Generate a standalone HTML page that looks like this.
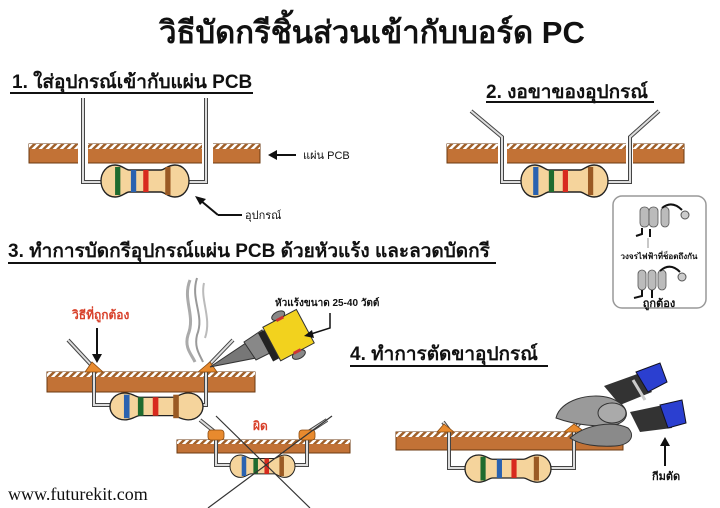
<!DOCTYPE html>
<html><head><meta charset="utf-8"><style>
html,body{margin:0;padding:0;background:#fff;}
svg{display:block;}
text{font-family:"Liberation Sans","DejaVu Sans",sans-serif;}
</style></head><body>
<svg width="720" height="508" viewBox="0 0 720 508" xmlns="http://www.w3.org/2000/svg">
<defs>
<pattern id="hatch" width="5" height="5" patternUnits="userSpaceOnUse" patternTransform="rotate(45)">
<rect width="5" height="5" fill="#fff"/><rect width="2.5" height="5" fill="#a0602a"/>
</pattern>
<path id="rb" d="M16,0 C6,0 0,8 0,16 C0,24 6,32 16,32 C24,32 28,27 32,27 L68,27 C72,27 76,32 84,32 C94,32 100,24 100,16 C100,8 94,0 84,0 C76,0 72,5 68,5 L32,5 C28,5 24,0 16,0Z"/>
</defs>

<text x="372" y="43" text-anchor="middle" font-size="31" font-weight="bold" fill="#111">วิธีบัดกรีชิ้นส่วนเข้ากับบอร์ด PC</text>

<!-- Section 1 -->
<text x="12" y="88" font-size="19" font-weight="bold" fill="#111">1. ใส่อุปกรณ์เข้ากับแผ่น PCB</text>
<line x1="10" y1="93" x2="253" y2="93" stroke="#111" stroke-width="2"/>
<g>
<rect x="29" y="144" width="231" height="19" fill="#c27236" stroke="#6b3a12"/>
<rect x="29" y="144" width="231" height="5" fill="url(#hatch)"/>
<rect x="78" y="143" width="10" height="21" fill="#fff"/>
<rect x="202" y="143" width="11" height="21" fill="#fff"/>
</g>
<polyline points="83,98 83,182 103,182" fill="none" stroke="#444" stroke-width="4"/>
<polyline points="83,98 83,182 103,182" fill="none" stroke="#ddd" stroke-width="2"/>
<polyline points="206,98 206,182 187,182" fill="none" stroke="#444" stroke-width="4"/>
<polyline points="206,98 206,182 187,182" fill="none" stroke="#ddd" stroke-width="2"/>
<g transform="translate(101,165) scale(0.88,1)">
<use href="#rb" fill="#f5d49c" stroke="#222" stroke-width="1.5"/>
<rect x="16" y="2" width="6" height="28" fill="#1f6b2e"/>
<rect x="34" y="5" width="6" height="22" fill="#2a62b0"/>
<rect x="48" y="5" width="6" height="22" fill="#d82a1e"/>
<rect x="73" y="2" width="6" height="28" fill="#9a5a24"/>
</g>
<line x1="274" y1="155" x2="296" y2="155" stroke="#111" stroke-width="2"/>
<polygon points="268,155 277,150 277,160" fill="#111"/>
<text x="303" y="159" font-size="11" fill="#111">แผ่น PCB</text>
<line x1="200" y1="200" x2="218" y2="215" stroke="#111" stroke-width="2"/>
<line x1="218" y1="215" x2="242" y2="215" stroke="#111" stroke-width="2"/>
<polygon points="195,196 206,199 200,205" fill="#111"/>
<text x="245" y="219" font-size="11" fill="#111">อุปกรณ์</text>

<!-- Section 2 -->
<text x="486" y="98" font-size="19" font-weight="bold" fill="#111">2. งอขาของอุปกรณ์</text>
<line x1="486" y1="102" x2="654" y2="102" stroke="#111" stroke-width="2"/>
<rect x="447" y="144" width="237" height="19" fill="#c27236" stroke="#6b3a12"/>
<rect x="447" y="144" width="237" height="5" fill="url(#hatch)"/>
<rect x="498" y="143" width="9" height="21" fill="#fff"/>
<rect x="626" y="143" width="7" height="21" fill="#fff"/>
<polyline points="471,111 502,137 502,182 523,182" fill="none" stroke="#444" stroke-width="4"/>
<polyline points="471,111 502,137 502,182 523,182" fill="none" stroke="#ddd" stroke-width="2"/>
<polyline points="659,111 630,137 630,182 606,182" fill="none" stroke="#444" stroke-width="4"/>
<polyline points="659,111 630,137 630,182 606,182" fill="none" stroke="#ddd" stroke-width="2"/>
<g transform="translate(521,165) scale(0.87,1)">
<use href="#rb" fill="#f5d49c" stroke="#222" stroke-width="1.5"/>
<rect x="14" y="2" width="6" height="28" fill="#2a62b0"/>
<rect x="32" y="5" width="6" height="22" fill="#1f6b2e"/>
<rect x="48" y="5" width="6" height="22" fill="#d82a1e"/>
<rect x="77" y="2" width="6" height="28" fill="#9a5a24"/>
</g>

<!-- Inset box -->
<rect x="613" y="196" width="93" height="112" rx="9" fill="#fff" stroke="#999" stroke-width="1.5"/>
<g fill="#bbb" stroke="#555" stroke-width="0.8">
<rect x="640" y="207" width="9" height="20" rx="4"/><rect x="649" y="207" width="9" height="20" rx="4"/><rect x="661" y="207" width="8" height="20" rx="4"/>
<rect x="638" y="270" width="8" height="20" rx="4"/><rect x="648" y="270" width="8" height="20" rx="4"/><rect x="658" y="270" width="8" height="20" rx="4"/>
</g>
<circle cx="685" cy="215" r="4" fill="#ccc" stroke="#555"/>
<circle cx="682" cy="277" r="4" fill="#ccc" stroke="#555"/>
<path d="M662,208 Q672,200 682,210" fill="none" stroke="#111" stroke-width="2"/>
<path d="M660,271 Q670,262 680,272" fill="none" stroke="#111" stroke-width="2"/>
<path d="M642,228 L642,234 L636,236" fill="none" stroke="#111" stroke-width="2"/>
<path d="M642,290 L642,296 L634,298" fill="none" stroke="#111" stroke-width="2"/>
<line x1="650" y1="229" x2="650" y2="237" stroke="#111" stroke-width="2"/>
<line x1="652" y1="290" x2="652" y2="298" stroke="#111" stroke-width="2"/>
<line x1="648" y1="238" x2="648" y2="248" stroke="#777" stroke-width="0.8"/>
<text x="659" y="259" text-anchor="middle" font-size="8" font-weight="bold" fill="#111">วงจรไฟฟ้าที่ช็อตถึงกัน</text>
<text x="659" y="307" text-anchor="middle" font-size="11" font-weight="bold" fill="#111">ถูกต้อง</text>

<!-- Section 3 -->
<text x="8" y="257" font-size="19" font-weight="bold" fill="#111">3. ทำการบัดกรีอุปกรณ์แผ่น PCB ด้วยหัวแร้ง และลวดบัดกรี</text>
<line x1="8" y1="263" x2="496" y2="263" stroke="#111" stroke-width="2"/>

<text x="72" y="319" font-size="12" font-weight="bold" fill="#d8402a">วิธีที่ถูกต้อง</text>
<line x1="97" y1="328" x2="97" y2="356" stroke="#111" stroke-width="2"/>
<polygon points="92,354 102,354 97,363" fill="#111"/>

<rect x="47" y="372" width="208" height="20" fill="#c27236" stroke="#6b3a12"/>
<rect x="47" y="372" width="208" height="5" fill="url(#hatch)"/>
<polyline points="68,340 94,368 94,405 112,405" fill="none" stroke="#444" stroke-width="4"/>
<polyline points="68,340 94,368 94,405 112,405" fill="none" stroke="#ddd" stroke-width="2"/>
<polyline points="233,340 206,368 206,405 200,405" fill="none" stroke="#444" stroke-width="4"/>
<polyline points="233,340 206,368 206,405 200,405" fill="none" stroke="#ddd" stroke-width="2"/>
<polygon points="85,372 92,362 103,372" fill="#e88a2e" stroke="#8a4a10" stroke-width="0.8"/>
<polygon points="198,372 210,362 217,372" fill="#e88a2e" stroke="#8a4a10" stroke-width="0.8"/>
<g transform="translate(110,393) scale(0.93,0.84)">
<use href="#rb" fill="#f5d49c" stroke="#222" stroke-width="1.5"/>
<rect x="15" y="2" width="6" height="28" fill="#2a62b0"/>
<rect x="30" y="5" width="6" height="22" fill="#1f6b2e"/>
<rect x="46" y="5" width="6" height="22" fill="#d82a1e"/>
<rect x="68" y="2" width="6" height="28" fill="#9a5a24"/>
</g>

<!-- smoke -->
<path d="M190,280 C182,300 196,315 188,335 C184,348 192,355 195,362" fill="none" stroke="#aaa" stroke-width="3"/>
<path d="M197,278 C190,300 205,315 197,335 C194,348 200,355 203,362" fill="none" stroke="#999" stroke-width="2"/>
<path d="M204,283 C200,300 212,318 205,338" fill="none" stroke="#bbb" stroke-width="2"/>
<!-- soldering iron -->
<polygon points="210,367 246,343 256,358" fill="#777" stroke="#333" stroke-width="1"/>
<polygon points="244,342 262,330 272,352 256,360" fill="#888" stroke="#333" stroke-width="1"/>
<g transform="rotate(-28 285 337)">
<rect x="263" y="321" width="8" height="32" fill="#222"/>
<rect x="270" y="318" width="38" height="38" fill="#f2d21e" stroke="#333" stroke-width="1"/>
<ellipse cx="289" cy="315" rx="7" ry="4" fill="#888" stroke="#333"/>
<ellipse cx="289" cy="359" rx="7" ry="4" fill="#888" stroke="#333"/>
<rect x="285" y="317" width="8" height="3" fill="#c33"/>
<rect x="285" y="354" width="8" height="3" fill="#c33"/>
</g>
<text x="275" y="306" font-size="10" font-weight="bold" fill="#111">หัวแร้งขนาด 25-40 วัตต์</text>
<polyline points="330,313 330,328 311,334" fill="none" stroke="#111" stroke-width="1.5"/>
<polygon points="304,336 312,330 314,338" fill="#111"/>

<!-- wrong example -->
<rect x="177" y="440" width="173" height="13" fill="#c27236" stroke="#6b3a12"/>
<rect x="177" y="440" width="173" height="4" fill="url(#hatch)"/>
<polyline points="200,420 216,433 216,465 232,465" fill="none" stroke="#444" stroke-width="4"/>
<polyline points="200,420 216,433 216,465 232,465" fill="none" stroke="#ddd" stroke-width="2"/>
<polyline points="327,420 307,433 307,465 292,465" fill="none" stroke="#444" stroke-width="4"/>
<polyline points="327,420 307,433 307,465 292,465" fill="none" stroke="#ddd" stroke-width="2"/>
<rect x="208" y="430" width="16" height="10" rx="3" fill="#e88a2e" stroke="#8a4a10" stroke-width="0.8"/>
<rect x="299" y="430" width="16" height="10" rx="3" fill="#e88a2e" stroke="#8a4a10" stroke-width="0.8"/>
<g transform="translate(230,455) scale(0.65,0.7)">
<use href="#rb" fill="#f5d49c" stroke="#222" stroke-width="1.5"/>
<rect x="18" y="2" width="7" height="28" fill="#2a62b0"/>
<rect x="36" y="5" width="7" height="22" fill="#1f6b2e"/>
<rect x="53" y="5" width="7" height="22" fill="#d82a1e"/>
<rect x="76" y="2" width="7" height="28" fill="#9a5a24"/>
</g>
<text x="253" y="430" font-size="12" font-weight="bold" fill="#d8402a">ผิด</text>
<line x1="216" y1="416" x2="310" y2="508" stroke="#333" stroke-width="1.2"/>
<line x1="332" y1="416" x2="208" y2="508" stroke="#333" stroke-width="1.2"/>

<text x="8" y="500" font-size="18" fill="#111" style="font-family:'Liberation Serif',serif">www.futurekit.com</text>

<!-- Section 4 -->
<text x="350" y="360" font-size="19" font-weight="bold" fill="#111">4. ทำการตัดขาอุปกรณ์</text>
<line x1="350" y1="366" x2="548" y2="366" stroke="#111" stroke-width="2"/>
<rect x="396" y="432" width="227" height="18" fill="#c27236" stroke="#6b3a12"/>
<rect x="396" y="432" width="227" height="5" fill="url(#hatch)"/>
<polyline points="443,422 449,430 449,468 467,468" fill="none" stroke="#444" stroke-width="4"/>
<polyline points="443,422 449,430 449,468 467,468" fill="none" stroke="#ddd" stroke-width="2"/>
<polyline points="600,398 574,430 574,468 549,468" fill="none" stroke="#444" stroke-width="4"/>
<polyline points="600,398 574,430 574,468 549,468" fill="none" stroke="#ddd" stroke-width="2"/>
<polygon points="437,432 444,424 454,432" fill="#e88a2e" stroke="#8a4a10" stroke-width="0.8"/>
<polygon points="564,432 574,424 585,432" fill="#e88a2e" stroke="#8a4a10" stroke-width="0.8"/>
<g transform="translate(465,455) scale(0.86,0.85)">
<use href="#rb" fill="#f5d49c" stroke="#222" stroke-width="1.5"/>
<rect x="18" y="2" width="6" height="28" fill="#1f6b2e"/>
<rect x="37" y="5" width="6" height="22" fill="#2a62b0"/>
<rect x="54" y="5" width="6" height="22" fill="#d82a1e"/>
<rect x="80" y="2" width="6" height="28" fill="#9a5a24"/>
</g>
<!-- pliers -->
<polygon points="604,386 640,373 652,392 620,405" fill="#333"/>
<polygon points="636,372 660,363 667,382 648,392" fill="#2b3fd0" stroke="#112" stroke-width="1"/>
<polygon points="630,412 668,404 672,428 640,432" fill="#333"/>
<polygon points="660,405 682,400 686,423 668,428" fill="#2b3fd0" stroke="#112" stroke-width="1"/>
<path d="M556,418 C560,400 590,392 610,398 C628,404 632,418 618,424 C600,428 575,425 556,418Z" fill="#9a9a9a" stroke="#333" stroke-width="1"/>
<path d="M570,438 C585,425 612,420 628,428 C636,436 630,445 615,446 C598,447 580,445 570,438Z" fill="#8a8a8a" stroke="#333" stroke-width="1"/>
<ellipse cx="612" cy="413" rx="14" ry="10" fill="#aaa" stroke="#333"/>
<line x1="633" y1="380" x2="645" y2="400" stroke="#ccc" stroke-width="3"/>
<text x="652" y="480" font-size="11" font-weight="bold" fill="#111">กีมตัด</text>
<line x1="665" y1="466" x2="665" y2="444" stroke="#111" stroke-width="2"/>
<polygon points="660,446 670,446 665,437" fill="#111"/>
</svg>
</body></html>
